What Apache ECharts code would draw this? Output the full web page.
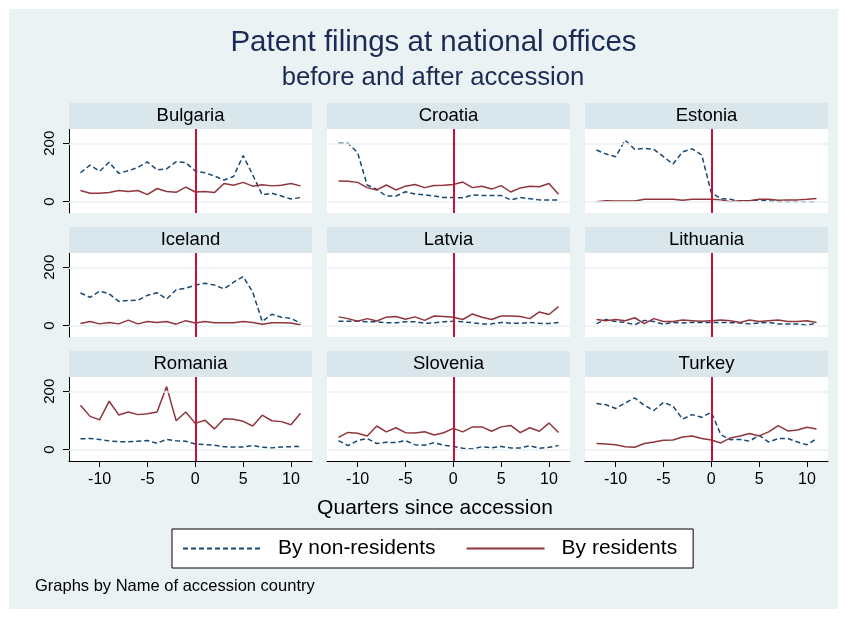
<!DOCTYPE html>
<html>
<head>
<meta charset="utf-8">
<script src="https://cdn.jsdelivr.net/npm/echarts@6/dist/echarts.min.js"></script>
<style>
html,body{margin:0;padding:0;background:#fff;}
#chart{width:846px;height:618px;}
</style>
</head>
<body>
<div id="chart"></div>
<script>
// ---- data ----
const quarters = [-12,-11,-10,-9,-8,-7,-6,-5,-4,-3,-2,-1,0,1,2,3,4,5,6,7,8,9,10,11];
const countries = ["Bulgaria","Croatia","Estonia","Iceland","Latvia","Lithuania","Romania","Slovenia","Turkey"];
const xTicks = [-10,-5,0,5,10];
const yTicks = [0,200];

const bulgariaNonRes = [99,125,104,135,97,106,117,136,109,112,137,134,105,99,88,74,86,158,92,23,29,19,9,14];
const bulgariaRes    = [38,29,29,31,38,35,38,24,45,35,32,50,33,35,31,62,56,66,53,58,54,56,62,54];
const croatiaNonRes  = [200,200,168,57,42,19,19,34,26,23,19,14,14,13,23,21,21,21,6,14,10,6,6,6];
const croatiaRes     = [71,70,66,48,40,57,40,53,59,48,55,56,59,67,48,53,43,55,33,47,53,51,62,25];
const estoniaNonRes  = [177,163,154,211,179,183,179,154,129,171,181,160,31,10,8,0,3,6,2,0,0,0,0,0];
const estoniaRes     = [0,3,2,2,2,8,8,8,8,5,8,8,8,6,0,3,3,8,8,5,6,6,8,11];
const icelandNonRes  = [112,97,118,109,83,86,87,104,113,91,123,128,139,145,139,126,149,168,115,14,39,29,25,8];
const icelandRes     = [7,14,6,11,6,19,6,14,11,14,5,17,9,14,10,10,10,14,11,5,10,10,9,2];
const latviaNonRes   = [15,15,15,13,13,10,10,13,13,8,10,13,15,13,10,6,6,11,8,8,11,8,7,11];
const latviaRes      = [30,24,15,24,16,29,31,22,30,18,33,31,29,21,40,29,21,33,33,31,24,47,38,65];
const lithuaniaNonRes= [7,21,14,11,3,18,14,5,11,9,11,11,11,11,10,9,6,9,11,6,6,6,1,9];
const lithuaniaRes   = [21,17,21,17,27,7,24,14,14,19,17,15,17,19,17,11,19,14,17,19,14,14,17,11];
const romaniaNonRes  = [37,38,35,30,27,27,29,31,22,35,30,29,19,17,15,10,9,9,14,8,6,9,10,11];
const romaniaRes     = [152,114,102,166,119,129,120,123,129,216,99,129,90,101,71,106,104,97,81,118,99,96,85,125];
const sloveniaNonRes = [31,14,31,38,21,25,24,31,17,15,24,15,11,5,2,10,6,11,6,6,13,5,8,14];
const sloveniaRes    = [42,59,56,47,81,61,75,58,57,61,50,58,73,61,78,78,63,78,83,58,75,63,91,59];
const turkeyNonRes   = [158,154,141,160,177,152,134,162,149,105,120,111,128,51,34,35,29,49,26,38,38,26,17,37];
const turkeyRes      = [21,19,17,10,8,21,26,32,33,43,47,38,33,23,40,47,55,47,61,82,64,67,77,71];

const nonResData = [bulgariaNonRes,croatiaNonRes,estoniaNonRes,icelandNonRes,latviaNonRes,lithuaniaNonRes,romaniaNonRes,sloveniaNonRes,turkeyNonRes];
const resData    = [bulgariaRes,croatiaRes,estoniaRes,icelandRes,latviaRes,lithuaniaRes,romaniaRes,sloveniaRes,turkeyRes];

// ---- layout ----
const colLeft = [69, 327, 585];
const rowTop = [129, 253, 377];
const pw = 243, ph = 84, hh = 26;
const FONT = "'Liberation Sans', Arial, Helvetica, sans-serif";
const NAVY = '#1a476f', MAROON = '#90353b', RED = '#c8103a';
const BG = '#eaf2f3', STRIP = '#d9e6eb';

const grids = [], xAxes = [], yAxes = [], series = [];
const graphics = [
  {type:'rect', shape:{x:9,y:9,width:829,height:600}, style:{fill:BG}, z:-10}
];

countries.forEach((c, i) => {
  const r = Math.floor(i/3), col = i%3;
  const left = colLeft[col], top = rowTop[r];
  grids.push({left:left, top:top, width:pw, height:ph, show:true, backgroundColor:'#fff', borderWidth:0, containLabel:false});
  const bottomRow = r === 2, firstCol = col === 0;
  xAxes.push({
    type:'value', gridIndex:i, min:-13.2, max:12.2,
    axisLine:{show:bottomRow, onZero:false, lineStyle:{color:'#000', width:1}},
    axisTick:{show:bottomRow, customValues:xTicks, length:6, lineStyle:{color:'#000'}},
    axisLabel:{show:bottomRow, customValues:xTicks, fontSize:16, color:'#000', fontFamily:FONT, margin:11},
    splitLine:{show:false}
  });
  yAxes.push({
    type:'value', gridIndex:i, min:-39, max:249,
    axisLine:{show:firstCol, onZero:false, lineStyle:{color:'#000', width:1}},
    axisTick:{show:firstCol, customValues:yTicks, length:6, lineStyle:{color:'#000'}},
    axisLabel:{show:firstCol, customValues:yTicks, rotate:90, fontSize:15, color:'#000', fontFamily:FONT, margin:12},
    splitLine:{show:false}
  });
  // grid lines
  series.push({
    type:'line', name:'grid'+i, xAxisIndex:i, yAxisIndex:i, data:[], z:1, silent:true,
    markLine:{silent:true, symbol:'none', label:{show:false}, animation:false,
      lineStyle:{color:BG, width:1.5, type:'solid'},
      data: yTicks.map(v => ({yAxis:v}))}
  });
  series.push({
    type:'line', name:'By non-residents', xAxisIndex:i, yAxisIndex:i, z:2,
    data: quarters.map((q,k) => [q, nonResData[i][k]]),
    symbol:'none', lineStyle:{color:NAVY, width:1.5, type:[5,3]}, itemStyle:{color:NAVY}
  });
  series.push({
    type:'line', name:'By residents', xAxisIndex:i, yAxisIndex:i, z:2,
    data: quarters.map((q,k) => [q, resData[i][k]]),
    symbol:'none', lineStyle:{color:MAROON, width:1.5}, itemStyle:{color:MAROON}
  });
  series.push({
    type:'line', name:'accession'+i, xAxisIndex:i, yAxisIndex:i, data:[], z:3, silent:true,
    markLine:{silent:true, symbol:'none', label:{show:false}, animation:false,
      lineStyle:{color:RED, width:2, type:'solid'},
      data:[{xAxis:0}]}
  });
  graphics.push({type:'rect', shape:{x:left, y:top-hh, width:pw, height:hh}, style:{fill:STRIP}, z:1});
  graphics.push({type:'text', x:left+pw/2, y:top-hh/2, style:{text:c, fontSize:18.5, fontFamily:FONT, fill:'#000', textAlign:'center', textVerticalAlign:'middle'}, z:2});
});

graphics.push({type:'text', x:433.5, y:43, style:{text:'Patent filings at national offices', fontSize:29.5, fontFamily:FONT, fill:'#1c2b55', textAlign:'center', textVerticalAlign:'middle'}, z:2});
graphics.push({type:'text', x:433, y:78, style:{text:'before and after accession', fontSize:25.7, fontFamily:FONT, fill:'#1c2b55', textAlign:'center', textVerticalAlign:'middle'}, z:2});
graphics.push({type:'text', x:435, y:508, style:{text:'Quarters since accession', fontSize:21, fontFamily:FONT, fill:'#000', textAlign:'center', textVerticalAlign:'middle'}, z:2});
graphics.push({type:'text', x:35, y:586, style:{text:'Graphs by Name of accession country', fontSize:16.5, fontFamily:FONT, fill:'#000', textAlign:'left', textVerticalAlign:'middle'}, z:2});

const chart = echarts.init(document.getElementById('chart'), null, {renderer:'canvas'});
chart.setOption({
  backgroundColor:'#fff',
  animation:false,
  grid:grids, xAxis:xAxes, yAxis:yAxes, series:series,
  graphic:graphics,
  legend:{
    data:['By non-residents','By residents'],
    left:172, top:529, orient:'horizontal',
    backgroundColor:'#fff', borderColor:'#000', borderWidth:1, borderRadius:0,
    padding:[9,16,9,10], itemWidth:78, itemHeight:14, itemGap:30,
    itemStyle:{color:'rgba(0,0,0,0)', borderWidth:0, opacity:0},
    textStyle:{fontSize:21, fontFamily:FONT, color:'#000', padding:[0,0,0,12]}
  }
});
</script>
</body>
</html>
